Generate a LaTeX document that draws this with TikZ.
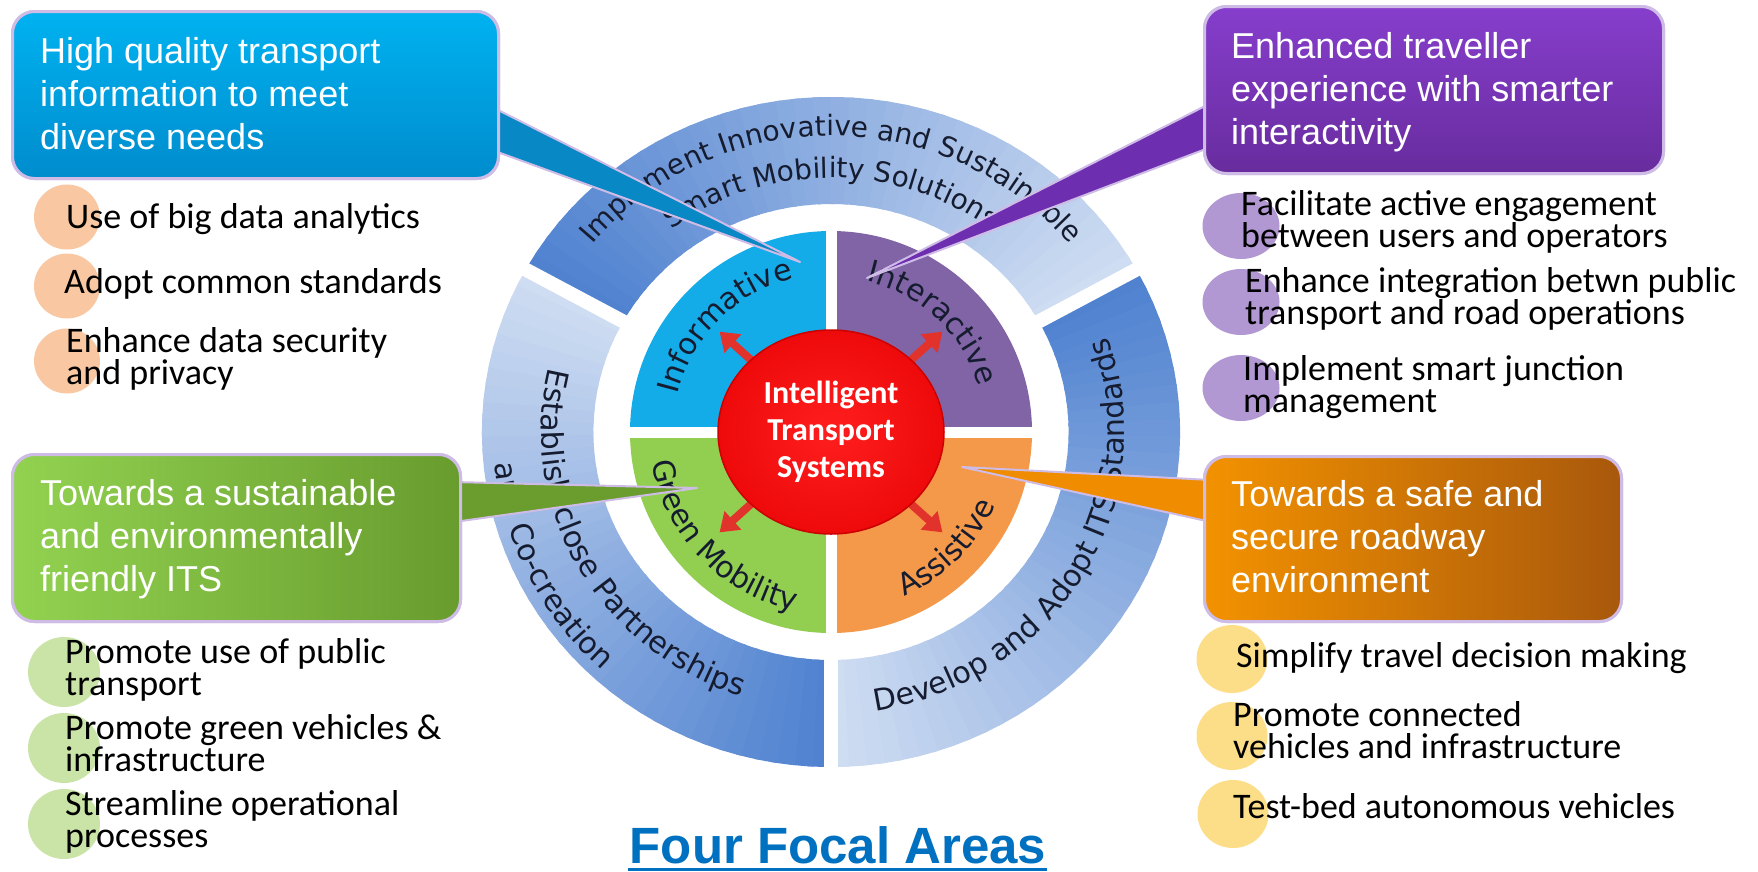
\documentclass[tikz,border=0pt]{standalone}
\usepackage{fontspec}
\setmainfont{Liberation Sans}
\newfontfamily\listfont{Carlito}
\newfontfamily\ringfont{DejaVu Sans}
\usetikzlibrary{
arrows.meta,
calc,
decorations.text,
positioning,
shapes.geometric
}
\tikzset{>=latex}

\definecolor{ringdark}{RGB}{80,130,208}
\definecolor{ringlight}{RGB}{210,223,243}
\definecolor{infoblue}{RGB}{0,178,240}
\definecolor{infobluedark}{RGB}{0,140,205}
\definecolor{interpurple}{RGB}{134,62,204}
\definecolor{interpurpledark}{RGB}{104,44,158}
\definecolor{assistorange}{RGB}{243,146,0}
\definecolor{assistorangedark}{RGB}{168,88,12}
\definecolor{greenlight}{RGB}{146,210,80}
\definecolor{greendark}{RGB}{104,156,46}
\definecolor{halo}{RGB}{206,188,230}
\definecolor{quadblue}{RGB}{20,172,232}
\definecolor{quadpurple}{RGB}{128,100,166}
\definecolor{quadgreen}{RGB}{146,207,80}
\definecolor{quadorange}{RGB}{244,152,74}
\definecolor{itsred}{RGB}{238,10,10}
\definecolor{arrowred}{RGB}{226,50,44}
\definecolor{peach}{RGB}{249,200,162}
\definecolor{lilac}{RGB}{178,152,210}
\definecolor{mint}{RGB}{202,228,168}
\definecolor{butter}{RGB}{253,222,136}
\definecolor{titleblue}{RGB}{0,112,192}
\definecolor{inktext}{RGB}{22,28,48}

\newcommand{\ringtxt}{\ringfont\fontsize{28}{30}\selectfont}
\newcommand{\sidetxt}{\ringfont\fontsize{30}{32}\selectfont}
\newcommand{\quadtxt}{\ringfont\fontsize{30}{32}\selectfont}

\begin{document}
\begin{tikzpicture}[x=1pt, y=-1pt,
		box/.style={anchor=north west,draw=halo,line width=3pt,rounded corners=22pt,inner sep=0pt},
		boxtxt/.style={anchor=base west,align=left,inner sep=0pt,text=white,font=\fontsize{36}{43}\selectfont},
		tail/.style={draw=halo,line width=2pt,line join=round},
		bullet/.style n args={3}{ellipse,inner sep=0pt,fill=#1,minimum width=#2,minimum height=#3},
		itemtxt/.style={anchor=base west,align=left,inner sep=0pt,font=\listfont\fontsize{36}{32}\selectfont},
		arc text/.style={decorate,decoration={text along path,text align=center,text color=inktext,text={#1}}},
		itsarrow/.style={arrowred,line width=8pt,-{Triangle[width=24pt,length=18pt]}},
		itscore/.style={ellipse,minimum width=226pt,minimum height=204pt,inner sep=0pt,draw={rgb,255:red,205;green,0;blue,0},line width=1.5pt,
			inner color={rgb,255:red,255;green,30;blue,30},outer color=itsred,align=center,text=white,font=\listfont\bfseries\fontsize{32}{37}\selectfont}]
		\useasboundingbox (0,0) rectangle (1758,871);
		\fill[white] (0,0) rectangle (1758,871);

		% outer ring
		\begin{scope}[shift={(831,432)},y=1pt,xscale=1.042]
			\foreach \s/\e in {151/29,29/-90,270/151}{
				\foreach \i in {0,...,39}{
					\pgfmathsetmacro{\a}{\s+(\e-\s)*\i/40}
					\pgfmathsetmacro{\b}{\s+(\e-\s)*(\i+1.3)/40}
					\pgfmathsetmacro{\p}{2.5*\i}
					\fill[ringlight!\p!ringdark] (\a:335) arc[start angle=\a,end angle=\b,radius=335] -- (\b:228) arc[start angle=\b,end angle=\a,radius=228] -- cycle;
				}
			}
			\foreach \g in {29,151,270} \draw[white,line width=14pt] (\g:215) -- (\g:350);

			\path[arc text={|\ringtxt|Implement Innovative and Sustainable}] (150:296) arc[start angle=150,end angle=30,radius=296];
			\path[arc text={|\ringtxt|Smart Mobility Solutions}] (150:254) arc[start angle=150,end angle=30,radius=254];
			\path[arc text={|\sidetxt|Develop and Adopt ITS Standards}] (-96:282) arc[start angle=-96,end angle=35,radius=282];
			\path[arc text={|\sidetxt|Establish close Partnerships}] (150:278) arc[start angle=150,end angle=268,radius=278];
			\path[arc text={|\sidetxt|and Co-creation}] (154:324) arc[start angle=154,end angle=258,radius=324];
		\end{scope}

		% focal areas
		\begin{scope}[shift={(831,432)},y=1pt]
			\foreach \c [count=\k] in {quadpurple,quadblue,quadgreen,quadorange}
				\fill[\c] (0,0) -- ({90*\k-90}:201) arc[start angle={90*\k-90},delta angle=90,radius=201] -- cycle;
			\draw[white,line width=11pt] (-205,0) -- (205,0) (0,-205) -- (0,205);

			\path[arc text={|\quadtxt|Informative}] (175:158) arc[start angle=175,end angle=95,radius=158];
			\path[arc text={|\quadtxt|Interactive}] (87:155) arc[start angle=87,end angle=7,radius=155];
			\path[arc text={|\quadtxt|Green Mobility}] (184:182) arc[start angle=184,end angle=264,radius=182];
			\path[arc text={|\quadtxt|Assistive}] (-82:180) arc[start angle=-82,end angle=-8,radius=180];

			\foreach \a in {42,138,222,318} \draw[itsarrow] (\a:90) -- (\a:150);
			\node[itscore] (its) at (0,0) {Intelligent\\Transport\\Systems};
		\end{scope}

		% callout tips
		\coordinate (tipinfo)   at (800,262);
		\coordinate (tipinter)  at (867,278);
		\coordinate (tipgreen)  at (697,488);
		\coordinate (tipassist) at (962,467);

		% boxes
		\node[box,top color=infoblue,bottom color=infobluedark,minimum width=486pt,minimum height=167pt] (info) at (11,10) {};
		\node[box,top color=interpurple,bottom color=interpurpledark,minimum width=459pt,minimum height=167pt] (inter) at (1203,5) {};
		\node[box,left color=greenlight,right color=greendark,minimum width=448pt,minimum height=167pt] (green) at (11,453) {};
		\node[box,left color=assistorange,right color=assistorangedark,minimum width=417pt,minimum height=165pt] (assist) at (1203,455) {};

		% tails
		\fill[tail,fill={rgb,255:red,8;green,136;blue,196}] ($(info.north east)+(-8,97)$) -- (tipinfo) -- ($(info.north east)+(-8,140)$) -- cycle;
		\fill[tail,fill={rgb,255:red,110;green,46;blue,176}] ($(inter.north west)+(8,98)$) -- (tipinter) -- ($(inter.north west)+(8,142)$) -- cycle;
		\fill[tail,fill={rgb,255:red,106;green,156;blue,46}] ($(green.north east)+(-8,29)$) -- (tipgreen) -- ($(green.north east)+(-8,69)$) -- cycle;
		\fill[tail,fill={rgb,255:red,240;green,140;blue,0}] ($(assist.north west)+(8,25)$) -- (tipassist) -- ($(assist.north west)+(8,67)$) -- cycle;

		% redraw boxes over tail bases
		\node[box,top color=infoblue,bottom color=infobluedark,minimum width=486pt,minimum height=167pt] at (11,10) {};
		\node[box,top color=interpurple,bottom color=interpurpledark,minimum width=459pt,minimum height=167pt] at (1203,5) {};
		\node[box,left color=greenlight,right color=greendark,minimum width=448pt,minimum height=167pt] at (11,453) {};
		\node[box,left color=assistorange,right color=assistorangedark,minimum width=417pt,minimum height=165pt] at (1203,455) {};

		\node[boxtxt] (infotxt)   at (40,149)   {High quality transport\\information to meet\\diverse needs};
		\node[boxtxt] (intertxt)  at (1231,144) {Enhanced traveller\\experience with smarter\\interactivity};
		\node[boxtxt] (greentxt)  at (40,591)   {Towards a sustainable\\and environmentally\\friendly ITS};
		\node[boxtxt] (assisttxt) at (1231,592) {Towards a safe and\\secure roadway\\environment};

		% informative list
		\node[bullet={peach}{66pt}{65pt}] (infob1) at (67,217) {};
		\node[bullet={peach}{66pt}{65pt}] (infob2) at (67,286) {};
		\node[bullet={peach}{66pt}{65pt}] (infob3) at (67,361) {};
		\node[itemtxt] (infoi1) at (66,228) {Use of big data analytics};
		\node[itemtxt] (infoi2) at (64,293) {Adopt common standards};
		\node[itemtxt] (infoi3) at (66,384) {Enhance data security\\and privacy};

		% interactive list
		\node[bullet={lilac}{77pt}{66pt}] (interb1) at (1241,226) {};
		\node[bullet={lilac}{77pt}{66pt}] (interb2) at (1241,302) {};
		\node[bullet={lilac}{77pt}{66pt}] (interb3) at (1241,388) {};
		\node[itemtxt] (interi1) at (1241,247) {Facilitate active engagement\\between users and operators};
		\node[itemtxt] (interi2) at (1245,324) {Enhance integration betwn public\\transport and road operations};
		\node[itemtxt] (interi3) at (1243,412) {Implement smart junction\\management};

		% green list
		\node[bullet={mint}{72pt}{70pt}] (greenb1) at (64,672) {};
		\node[bullet={mint}{72pt}{70pt}] (greenb2) at (64,748) {};
		\node[bullet={mint}{72pt}{70pt}] (greenb3) at (64,824) {};
		\node[itemtxt] (greeni1) at (65,695) {Promote use of public\\transport};
		\node[itemtxt] (greeni2) at (65,771) {Promote green vehicles \&\\infrastructure};
		\node[itemtxt] (greeni3) at (65,847) {Streamline operational\\processes};

		% assistive list
		\node[bullet={butter}{71pt}{68pt}] (assistb1) at (1232,659) {};
		\node[bullet={butter}{71pt}{68pt}] (assistb2) at (1232,736) {};
		\node[bullet={butter}{71pt}{68pt}] (assistb3) at (1233,814) {};
		\node[itemtxt] (assisti1) at (1236,667) {Simplify travel decision making};
		\node[itemtxt] (assisti2) at (1233,758) {Promote connected\\vehicles and infrastructure};
		\node[itemtxt] (assisti3) at (1233,818) {Test-bed autonomous vehicles};

		% title
		\node[anchor=base,inner sep=0pt,text=titleblue,font=\bfseries\fontsize{51}{56}\selectfont] (focal) at (838,863) {Four Focal Areas};
		\draw[titleblue,line width=3pt] ($(focal.base west)+(-2,6)$) -- ($(focal.base east)+(0,6)$);
\end{tikzpicture}
\end{document}
